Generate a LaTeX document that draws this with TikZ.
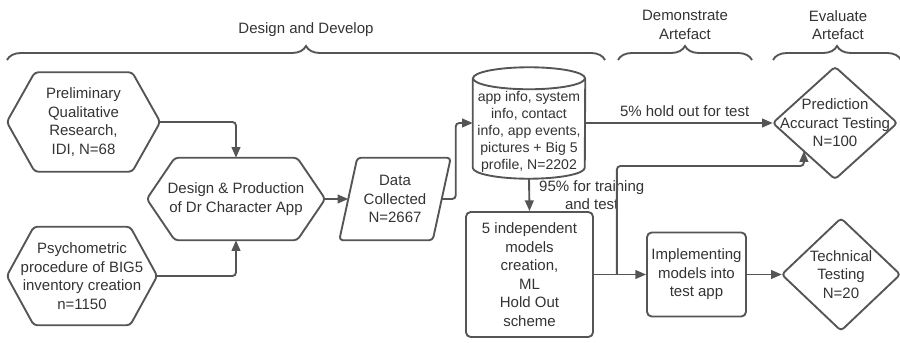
\documentclass[tikz,border=0pt]{standalone}
\usepackage{fontspec}
\setmainfont{Liberation Sans}
\usetikzlibrary{arrows.meta}
\usetikzlibrary{calc, positioning}
\usetikzlibrary{decorations.pathreplacing}
\definecolor{linegray}{HTML}{555555}
\definecolor{textgray}{HTML}{333333}
\def\pxl{0.03cm}
\tikzset{
    shapetext/.style={
        align=center, text=textgray, inner sep=0pt
    },
    outline/.style={
        draw=linegray, line width=1.6pt, rounded corners=3pt
    },
    roundbox/.style={
        shapetext, draw=linegray, line width=1.6pt, rounded corners=4pt
    },
    flow/.style={
        draw=linegray, line width=1.6pt, rounded corners=3pt,
        -{Triangle[length=0.32cm, width=0.26cm]}
    },
    phase/.style={
        draw=linegray, line width=1.6pt,
        decoration={brace, amplitude=0.42cm}, decorate
    }
}

\begin{document}
\begin{tikzpicture}[ x=\pxl, y=-\pxl, font=\fontsize{12.8}{15.8}\selectfont ]

	\useasboundingbox (0, 0) rectangle (900, 343);

	% phases
	\draw[ phase ] (7, 60) -- (605, 60);
	\draw[ phase ] (618, 60) -- (752, 60);
	\draw[ phase ] (773, 60) -- (901, 60);
	\node[ shapetext ] (develop) at (306, 30) {Design and Develop};
	\node[ shapetext ] (demonstrate) at (685, 25) {Demonstrate\\Artefact};
	\node[ shapetext ] (evaluate) at (838, 25) {Evaluate\\Artefact};

	% steps
	\node[ shapetext, minimum width=153*\pxl, minimum height=99*\pxl ] (prelim) at (83.5, 122) {Preliminary\\Qualitative\\Research,\\IDI, N=68};
	\node[ shapetext, minimum width=178*\pxl, minimum height=82*\pxl ] (design) at (236, 199) {Design \& Production\\of Dr Character App};
	\node[ shapetext, minimum width=150*\pxl, minimum height=98*\pxl ] (psych) at (82, 276) {Psychometric\\procedure of BIG5\\inventory creation\\n=1150};
	\node[ shapetext, minimum width=93*\pxl, minimum height=82*\pxl ] (data) at (395, 199) {Data\\Collected\\N=2667};
	\node[ shapetext, minimum width=112*\pxl, minimum height=111*\pxl, font=\fontsize{12}{14.6}\selectfont ] (db) at (529, 123) {\raisebox{-0.27cm}[\height][\depth]{\begin{tabular}{@{}c@{}}app info, system\\info, contact\\info, app events,\\pictures + Big 5\\profile, N=2202\end{tabular}}};
	\node[ roundbox, minimum width=127*\pxl, minimum height=125*\pxl ] (models) at (529.5, 274.5) {5 independent\\models\\creation,\\ML\\Hold Out\\scheme};
	\node[ roundbox, minimum width=99*\pxl, minimum height=84*\pxl ] (impl) at (696.5, 274.5) {Implementing\\models into\\test app};
	\node[ shapetext, minimum width=124*\pxl, minimum height=112*\pxl ] (pred) at (835, 123) {Prediction\\Accuract Testing\\N=100};
	\node[ shapetext, minimum width=118*\pxl, minimum height=112*\pxl ] (tech) at (841, 274.5) {Technical\\Testing\\N=20};

	% outlines
	\foreach \n/\s in {prelim/28, design/28, psych/27}
		\draw[ outline ] (\n.west) -- ([xshift=\s*\pxl]\n.north west) -- ([xshift=-\s*\pxl]\n.north east) -- (\n.east) -- ([xshift=-\s*\pxl]\n.south east) -- ([xshift=\s*\pxl]\n.south west) -- cycle;
	\draw[ outline ] ([xshift=9*\pxl]data.north west) -- ([xshift=9*\pxl]data.north east) -- ([xshift=-9*\pxl]data.south east) -- ([xshift=-9*\pxl]data.south west) -- cycle;
	\draw[ outline, sharp corners ] ([yshift=-11*\pxl]db.north) ellipse [x radius=56*\pxl, y radius=11*\pxl];
	\draw[ outline, sharp corners ] ([yshift=-11*\pxl]db.north west) -- ([yshift=11*\pxl]db.south west) arc [start angle=180, end angle=360, x radius=56*\pxl, y radius=11*\pxl] -- ([yshift=-11*\pxl]db.north east);
	\foreach \n in {pred, tech}
		\draw[ outline ] (\n.west) -- (\n.north) -- (\n.east) -- (\n.south) -- cycle;

	% connectors
	\draw[ flow ] (prelim.east) -| (design.north);
	\draw[ flow ] (psych.east) -| (design.south);
	\draw[ flow ] (design.east) -- (data.west);
	\draw[ flow ] (data.east) -- ++(14, 0) |- (db.west);
	\draw[ flow ] (db.east) -- (pred.west) node[ pos=0.53, above=5*\pxl, shapetext ] (holdout) {5\% hold out for test};
	\draw[ flow ] (db.south) -- (models.north) node[ midway, right=9*\pxl, shapetext ] (training) {95\% for training\\and test};
	\draw[ flow ] (models.east) -- (impl.west);
	\coordinate (split) at ($(models.east)!0.44!(impl.west)$);
	\coordinate (predin) at ($(pred.west)!0.5!(pred.south)$);
	\draw[ flow ] (split) -- ++(0, -108.5) -| (predin);
	\draw[ flow ] (impl.east) -- (tech.west);

\end{tikzpicture}
\end{document}
